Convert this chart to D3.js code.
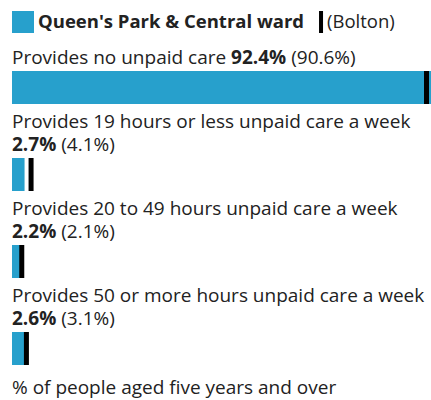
<!DOCTYPE html>
<html>
<head>
<meta charset="utf-8">
<script src="https://cdn.jsdelivr.net/npm/d3@7"></script>
<style>
  body { margin: 0; background: #fff; }
  svg { display: block; font-family: "Open Sans", sans-serif; }
</style>
</head>
<body>
<svg id="chart" width="431" height="400"></svg>
<script>
// data
const areaName = "Queen's Park & Central ward";
const compareName = "Bolton";
const categories = [
    "Provides no unpaid care",
    "Provides 19 hours or less unpaid care a week",
    "Provides 20 to 49 hours unpaid care a week",
    "Provides 50 or more hours unpaid care a week"
];
const values = [92.4, 2.7, 2.2, 2.6];
const compare = [90.6, 4.1, 2.1, 3.1];
const footnote = "% of people aged five years and over";

const width = 431;
const left = 12;
const fontSize = 19;
const lineH = 23;
const barH = 33;
const blue = "#27a0cc";
const textCol = "#222";

let svg = d3.select("#chart");

let x = d3.scaleLinear()
    .domain([0, 100])
    .range([left, left + 465]);

// legend
svg.append("rect")
    .attr("x", left).attr("y", 11)
    .attr("width", 22).attr("height", 22)
    .attr("fill", blue);
let legText = svg.append("text")
    .attr("x", 38).attr("y", 28)
    .attr("font-size", 18.5).attr("font-weight", "bold")
    .attr("fill", textCol)
    .text(areaName);
let legEnd = 38 + legText.node().getComputedTextLength();
svg.append("rect")
    .attr("x", legEnd + 15).attr("y", 11)
    .attr("width", 4).attr("height", 22)
    .attr("fill", "#000");
svg.append("text")
    .attr("x", legEnd + 23).attr("y", 28)
    .attr("font-size", 18.5).attr("fill", textCol)
    .text("(" + compareName + ")");

svg.append("clipPath").attr("id", "clip")
    .append("rect").attr("x", 0).attr("y", 0)
    .attr("width", width).attr("height", 400);

// value line: bold ward value then bolton value in brackets
function addValues(t, i) {
    t.append("tspan").attr("font-weight", "bold").text(values[i] + "%");
    t.append("tspan").text(" (" + compare[i] + "%)");
}

let yCursor = 64;
categories.forEach(function(cat, i) {
    let full = cat + " " + values[i] + "% (" + compare[i] + "%)";
    let tmp = svg.append("text").attr("font-size", fontSize).text(full);
    let fits = tmp.node().getComputedTextLength() < width - left - 4;
    tmp.remove();

    let t = svg.append("text")
        .attr("x", left).attr("y", yCursor)
        .attr("font-size", fontSize).attr("fill", textCol);
    if (fits) {
        t.append("tspan").text(cat + " ");
        addValues(t, i);
    } else {
        t.text(cat);
        yCursor += lineH;
        let t2 = svg.append("text")
            .attr("x", left).attr("y", yCursor)
            .attr("font-size", fontSize).attr("fill", textCol);
        addValues(t2, i);
    }

    let barTop = yCursor + 7;
    let g = svg.append("g").attr("clip-path", "url(#clip)");
    g.append("rect")
        .attr("x", left).attr("y", barTop)
        .attr("width", x(values[i]) - left)
        .attr("height", barH)
        .attr("fill", blue);
    g.append("rect")
        .attr("x", Math.min(x(compare[i]), width - 4.5) - 2.5)
        .attr("y", barTop)
        .attr("width", 5)
        .attr("height", barH)
        .attr("fill", "#000");
    yCursor = barTop + barH + 24;
});

svg.append("text")
    .attr("x", left).attr("y", yCursor + 5)
    .attr("font-size", fontSize).attr("fill", textCol)
    .text(footnote);
</script>
</body>
</html>
